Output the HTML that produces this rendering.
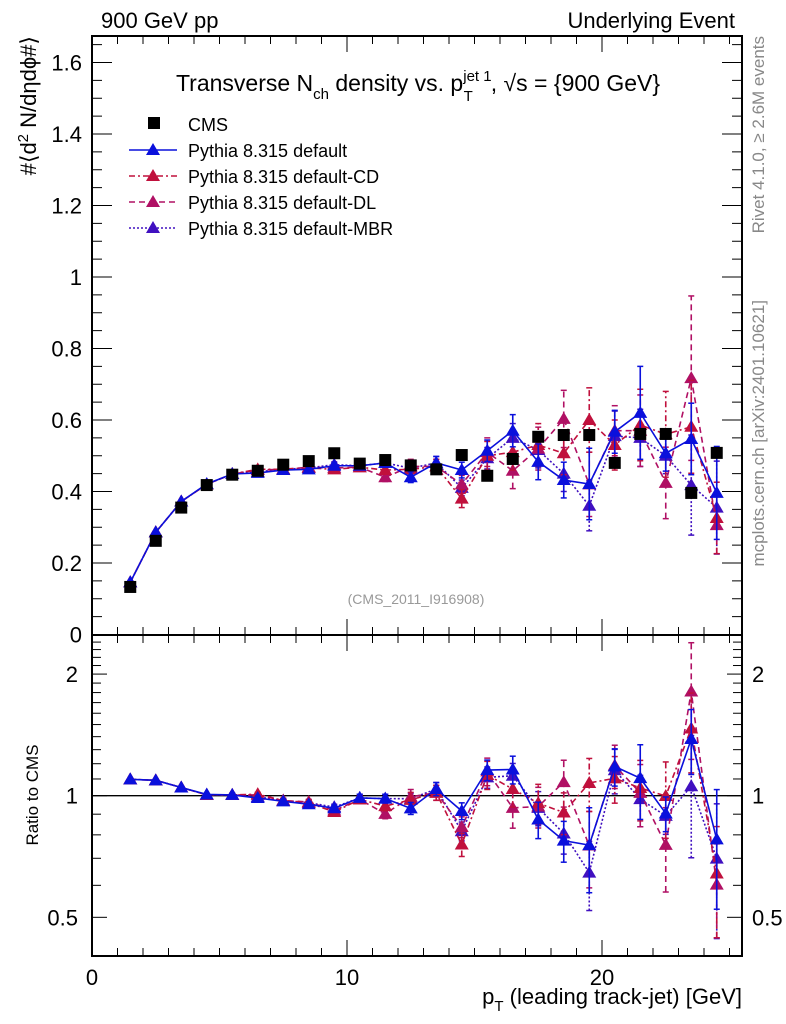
<!DOCTYPE html>
<html><head><meta charset="utf-8"><style>
body{margin:0;background:#fff}
svg{display:block;font-family:"Liberation Sans",sans-serif}
</style></head><body>
<svg id="c" width="786" height="1024" xmlns="http://www.w3.org/2000/svg"></svg>
<script>
const xc=[1.5,2.5,3.5,4.5,5.5,6.5,7.5,8.5,9.5,10.5,11.5,12.5,13.5,14.5,15.5,16.5,17.5,18.5,19.5,20.5,21.5,22.5,23.5,24.5];
const cms=[0.133,0.262,0.355,0.418,0.447,0.458,0.475,0.485,0.507,0.478,0.488,0.473,0.462,0.502,0.444,0.491,0.553,0.558,0.558,0.48,0.561,0.561,0.396,0.508];
const vDef=[0.146,0.286,0.372,0.421,0.449,0.452,0.46,0.462,0.472,0.472,0.48,0.44,0.48,0.46,0.514,0.57,0.483,0.432,0.421,0.567,0.62,0.507,0.547,0.396];
const eDef=[0,0,0,0,0.004,0.005,0.006,0.007,0.008,0.01,0.012,0.015,0.018,0.022,0.03,0.045,0.05,0.05,0.1,0.06,0.13,0.05,0.1,0.13];
const vCD=[0.146,0.286,0.372,0.42,0.449,0.462,0.462,0.466,0.462,0.468,0.46,0.462,0.47,0.38,0.5,0.51,0.53,0.507,0.6,0.53,0.586,0.56,0.581,0.326];
const eCD=[0,0,0,0,0.004,0.005,0.006,0.007,0.008,0.01,0.012,0.02,0.02,0.025,0.04,0.05,0.06,0.06,0.09,0.07,0.1,0.12,0.13,0.1];
const vDL=[0.146,0.286,0.372,0.42,0.449,0.46,0.462,0.468,0.466,0.468,0.44,0.47,0.47,0.42,0.51,0.458,0.52,0.603,0.42,0.57,0.57,0.424,0.717,0.306];
const eDL=[0,0,0,0,0.004,0.005,0.006,0.007,0.008,0.01,0.012,0.02,0.02,0.025,0.04,0.05,0.06,0.08,0.09,0.07,0.1,0.1,0.23,0.08];
const vMBR=[0.146,0.286,0.372,0.42,0.449,0.455,0.462,0.466,0.475,0.472,0.48,0.465,0.48,0.41,0.493,0.55,0.516,0.45,0.36,0.555,0.55,0.5,0.418,0.355];
const eMBR=[0,0,0,0,0.004,0.005,0.006,0.007,0.008,0.01,0.012,0.015,0.018,0.022,0.03,0.04,0.05,0.05,0.07,0.07,0.08,0.05,0.14,0.13];
const xTicks=[0,10,20];
const yTicks=[0,0.2,0.4,0.6,0.8,1,1.2,1.4,1.6];
const yTickLabels=["0","0.2","0.4","0.6","0.8","1","1.2","1.4","1.6"];
const rTicks=[0.5,1,2];
const rTickLabels=["0.5","1","2"];

const NS="http://www.w3.org/2000/svg";
const svg=document.getElementById('c');
const L=92,R=742,T=36,MB=635,RB=956;
const X=v=>L+v*25.5;
const Y=v=>634.5-v*357.5;
const YR=r=>795.7-Math.log10(r)*404;
function mk(tag,at,parent){const e=document.createElementNS(NS,tag);for(const k in at)e.setAttribute(k,at[k]);(parent||svg).appendChild(e);return e;}
function txt(s,x,y,size,anchor,fill,parent){const e=mk('text',{x:x,y:y,'font-size':size,'text-anchor':anchor||'start',fill:fill||'#000'},parent);e.textContent=s;return e;}

const fm=mk('rect',{x:L,y:T,width:R-L,height:MB-T,fill:'none',stroke:'#000','stroke-width':2});

const fr=mk('rect',{x:L,y:MB,width:R-L,height:RB-MB,fill:'none',stroke:'#000','stroke-width':2});


const gx=mk('g',{stroke:'#000','stroke-width':1});

for(let v=0;v<=25;v++){const maj=v%10===0;const l=maj?16:8;
 [[T,1],[MB,-1],[MB,1],[RB,-1]].forEach(([y0,d])=>mk('line',{x1:X(v),x2:X(v),y1:y0,y2:y0+d*l},gx));}
xTicks.forEach(v=>{const t=txt(String(v),X(v),985,22,'middle');});
const gy=mk('g',{stroke:'#000','stroke-width':1});

for(let i=0;i<=33;i++){const v=i*0.05;if(Y(v)<T)break;const maj=i%4===0;const l=maj?20:10;
 mk('line',{x1:L,x2:L+l,y1:Y(v),y2:Y(v)},gy);mk('line',{x1:R,x2:R-l,y1:Y(v),y2:Y(v)},gy);}
yTicks.forEach((v,i)=>{const t=txt(yTickLabels[i],82,Y(v)+8,22,'end');});
const gr=mk('g',{stroke:'#000','stroke-width':1});

[0.4,0.5,0.6,0.7,0.8,0.9,1,1.1,1.2,1.3,1.4,1.5,1.6,1.7,1.8,1.9,2,2.1,2.2,2.3,2.4,2.5].forEach(r=>{const y=YR(r);if(y<MB||y>RB)return;const maj=(r===0.5||r===1||r===2);const l=maj?15:9;
 mk('line',{x1:L,x2:L+l,y1:y,y2:y},gr);mk('line',{x1:R,x2:R-l,y1:y,y2:y},gr);});
rTicks.forEach((r,i)=>{const t=txt(rTickLabels[i],78,YR(r)+8,22,'end');
 const t2=txt(rTickLabels[i],752,YR(r)+8,22,'start');});
const one=mk('line',{x1:L,x2:R,y1:YR(1),y2:YR(1),stroke:'#000','stroke-width':1.3});


const series=[
 {n:'default',v:vDef,e:eDef,c:'#0a10dc',d:'none'},
 {n:'default-cd',v:vCD,e:eCD,c:'#c0103c',d:'6,3,2,3'},
 {n:'default-dl',v:vDL,e:eDL,c:'#b01064',d:'6,4'},
 {n:'default-mbr',v:vMBR,e:eMBR,c:'#4010c0',d:'2,2'}];
function tri(g,x,y,c){mk('polygon',{points:`${x},${y-7} ${x-7},${y+5} ${x+7},${y+5}`,fill:c,stroke:'none'},g);}
series.slice().reverse().forEach(s=>{
 [['main',i=>Y(s.v[i]),i=>Y(s.v[i]-s.e[i]),i=>Y(s.v[i]+s.e[i])],
  ['ratio',i=>YR(s.v[i]/cms[i]),i=>YR(Math.max(0.35,(s.v[i]-s.e[i])/cms[i])),i=>YR((s.v[i]+s.e[i])/cms[i])]].forEach(([p,fy,flo,fhi])=>{
  const g=mk('g',{});
  
  mk('polyline',{points:xc.map((x,i)=>X(x)+','+fy(i)).join(' '),fill:'none',stroke:s.c,'stroke-width':1.6,'stroke-dasharray':s.d},g);
  xc.forEach((x,i)=>{if(s.e[i]>0.003){mk('line',{x1:X(x),x2:X(x),y1:flo(i),y2:fhi(i),stroke:s.c,'stroke-width':1.6,'stroke-dasharray':s.d},g);
    mk('line',{x1:X(x)-3,x2:X(x)+3,y1:flo(i),y2:flo(i),stroke:s.c,'stroke-width':1.5},g);mk('line',{x1:X(x)-3,x2:X(x)+3,y1:fhi(i),y2:fhi(i),stroke:s.c,'stroke-width':1.5},g);}
   tri(g,X(x),fy(i),s.c);});
 });
});
const gc=mk('g',{fill:'#000'});

xc.forEach((x,i)=>mk('rect',{x:X(x)-6,y:Y(cms[i])-6,width:12,height:12},gc));

function named(t,n){return t;}
named(txt('900 GeV pp',101,28,22),'energy-label');
named(txt('Underlying Event',735,28,22,'end'),'process-label');
const tt=mk('text',{x:418,y:91,'font-size':23,'text-anchor':'middle'});named(tt,'plot-title');
tt.innerHTML='Transverse N<tspan font-size="15" dy="8">ch</tspan><tspan dy="-8"> density vs. p</tspan><tspan font-size="15" dy="-10">jet 1</tspan><tspan font-size="15" dx="-28" dy="20">T</tspan><tspan dx="18" dy="-10">, √s = {900 GeV}</tspan>';
named(txt('(CMS_2011_I916908)',416,604,14,'middle','#999'),'analysis-id');
const yl=mk('text',{x:0,y:0,'font-size':22,'text-anchor':'end',transform:'translate(36,36) rotate(-90)'});named(yl,'y-axis-title');
yl.innerHTML='#⟨d<tspan font-size="15" dy="-8">2</tspan><tspan dy="8"> N/dηdϕ#⟩</tspan>';
named(mk('text',{x:0,y:0,'font-size':17,'text-anchor':'middle',transform:'translate(38,795) rotate(-90)'}),'ratio-axis-title').textContent='Ratio to CMS';
const xl=mk('text',{x:742,y:1004,'font-size':22,'text-anchor':'end'});named(xl,'x-axis-title');
xl.innerHTML='p<tspan font-size="15" dy="7">T</tspan><tspan dy="-7"> (leading track-jet) [GeV]</tspan>';
named(mk('text',{x:0,y:0,'font-size':17,'text-anchor':'end',fill:'#888',transform:'translate(764,36) rotate(-90)'}),'rivet-label').textContent='Rivet 4.1.0, ≥ 2.6M events';
named(mk('text',{x:0,y:0,'font-size':17,'text-anchor':'end',fill:'#888',transform:'translate(764,300) rotate(-90)'}),'mcplots-label').textContent='mcplots.cern.ch [arXiv:2401.10621]';

const lg=mk('g',{});named(lg,'legend');
mk('rect',{x:148,y:117,width:12,height:12,fill:'#000'},lg);
named(txt('CMS',188,131,18,'start','#000',lg),'legend-entry-cms');
series.forEach((s,i)=>{const y=150+i*26;
 mk('line',{x1:129,x2:177,y1:y,y2:y,stroke:s.c,'stroke-width':1.6,'stroke-dasharray':s.d},lg);
 tri(lg,153,y,s.c);
 named(txt('Pythia 8.315 '+s.n.replace('default-cd','default-CD').replace('default-dl','default-DL').replace('default-mbr','default-MBR'),188,y+7,18,'start','#000',lg),'legend-entry-'+s.n);});
</script>
</body></html>
